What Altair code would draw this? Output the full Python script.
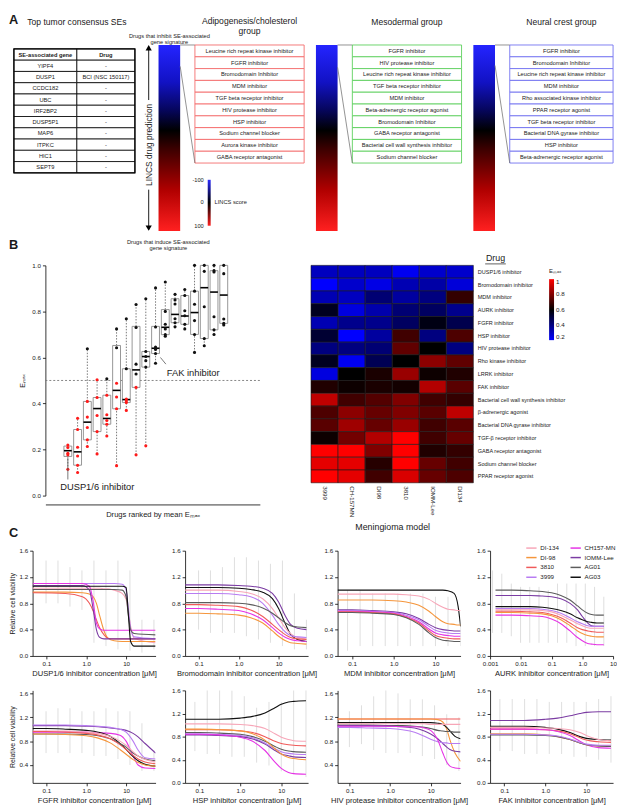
import altair as alt
import pandas as pd

FONT = "Liberation Sans"

# ---------------- Panel A data ----------------
SE_HEADER = ["SE-associated gene", "Drug"]
SE_GENES = ["YIPF4", "DUSP1", "CCDC182", "UBC", "IRF2BP2", "DUSP5P1", "MAP6", "ITPKC", "HIC1", "SEPT9"]
SE_DRUGS = ["-", "BCI (NSC 150117)", "-", "-", "-", "-", "-", "-", "-", "-"]

ADIPO_DRUGS = ["Leucine rich repeat kinase inhibitor", "FGFR inhibitor", "Bromodomain Inhibitor",
               "MDM inhibitor", "TGF beta receptor inhibitor", "HIV protease inhibitor", "HSP inhibitor",
               "Sodium channel blocker", "Aurora kinase inhibitor", "GABA receptor antagonist"]
MESO_DRUGS = ["FGFR inhibitor", "HIV protease inhibitor", "Leucine rich repeat kinase inhibitor",
              "TGF beta receptor inhibitor", "MDM inhibitor", "Beta-adrenergic receptor agonist",
              "Bromodomain Inhibitor", "GABA receptor antagonist", "Bacterial cell wall synthesis inhibitor",
              "Sodium channel blocker"]
NEURAL_DRUGS = ["FGFR inhibitor", "Bromodomain Inhibitor", "Leucine rich repeat kinase inhibitor",
                "MDM inhibitor", "Rho associated kinase inhibitor", "PPAR receptor agonist",
                "TGF beta receptor inhibitor", "Bacterial DNA gyrase inhibitor", "HSP inhibitor",
                "Beta-adrenergic receptor agonist"]
GROUP_DRUGS = [ADIPO_DRUGS, MESO_DRUGS, NEURAL_DRUGS]
GROUP_TITLES = [["Adipogenesis/cholesterol", "group"], ["Mesodermal group"], ["Neural crest group"]]
TOP10_PCT = [11.5, 12.0, 11.0]          # share (%) of ranked LINCS list covered by the top-10 drugs
LINCS_TICKS = ["-100", "0", "100"]

# ---------------- Panel B data ----------------
DRUGS = ["DUSP1/6 inhibitor", "Bromodomain inhibitor", "MDM inhibitor", "AURK inhibitor", "FGFR inhibitor",
         "HSP inhibitor", "HIV protease inhibitor", "Rho kinase inhibitor", "LRRK inhibitor", "FAK inhibitor",
         "Bacterial cell wall synthesis inhibitor", "β-adrenergic agonist", "Bacterial DNA gyrase inhibitor",
         "TGF-β receptor inhibitor", "GABA receptor antagonist", "Sodium channel blocker", "PPAR receptor agonist"]
BOX_Q1 = [0.17, 0.132, 0.242, 0.278, 0.31, 0.377, 0.404, 0.47, 0.558, 0.617, 0.699, 0.751, 0.744, 0.70, 0.682, 0.72, 0.748]
BOX_MED = [0.195, 0.19, 0.319, 0.378, 0.335, 0.457, 0.417, 0.546, 0.604, 0.64, 0.731, 0.787, 0.78, 0.795, 0.903, 0.884, 0.871]
BOX_Q3 = [0.215, 0.287, 0.409, 0.426, 0.436, 0.652, 0.551, 0.735, 0.626, 0.735, 0.808, 0.855, 0.869, 0.888, 1.0, 0.977, 1.0]
BOX_POINTS = [
    [0.22, 0.209, 0.184, 0.177, 0.114],
    [0.336, 0.287, 0.21, 0.172, 0.132, 0.10],
    [0.638, 0.409, 0.341, 0.296, 0.242, 0.213],
    [0.503, 0.426, 0.348, 0.278, 0.181],
    [0.507, 0.436, 0.351, 0.326, 0.31, 0.259],
    [0.724, 0.642, 0.488, 0.428, 0.377, 0.13],
    [0.768, 0.551, 0.419, 0.412, 0.404, 0.37],
    [0.83, 0.73, 0.571, 0.528, 0.47, 0.177],
    [0.855, 0.626, 0.604, 0.586, 0.558, 0.216],
    [0.902, 0.732, 0.645, 0.64, 0.635, 0.617, 0.575],
    [0.928, 0.80, 0.744, 0.724, 0.699, 0.692],
    [0.874, 0.85, 0.832, 0.768, 0.751, 0.733],
    [0.895, 0.869, 0.803, 0.781, 0.744, 0.724],
    [1.0, 0.888, 0.831, 0.76, 0.70, 0.622],
    [1.0, 0.974, 0.82, 0.682, 0.651],
    [1.0, 0.977, 0.971, 0.777, 0.72, 0.70],
    [1.0, 0.964, 0.767, 0.748, 0.741],
]
HEAT_MODELS = ["3999", "CH-157MN", "DI98", "3810", "IOMM-Lee", "DI134"]
HEAT_EMAX = [
    [0.30, 0.30, 0.30, 0.22, 0.28, 0.28],
    [0.20, 0.28, 0.24, 0.32, 0.34, 0.26],
    [0.32, 0.30, 0.42, 0.35, 0.40, 0.68],
    [0.55, 0.25, 0.33, 0.42, 0.45, 0.38],
    [0.32, 0.38, 0.38, 0.45, 0.57, 0.48],
    [0.52, 0.20, 0.35, 0.70, 0.40, 0.72],
    [0.40, 0.40, 0.42, 0.75, 0.60, 0.40],
    [0.55, 0.22, 0.47, 0.60, 0.82, 0.75],
    [0.25, 0.60, 0.64, 0.84, 0.62, 0.65],
    [0.65, 0.62, 0.64, 0.63, 0.88, 0.74],
    [0.90, 0.70, 0.73, 0.80, 0.70, 0.68],
    [0.72, 0.82, 0.76, 0.80, 0.74, 0.90],
    [0.74, 0.85, 0.76, 0.84, 0.70, 0.74],
    [0.62, 0.78, 0.88, 1.00, 0.70, 0.76],
    [1.00, 1.00, 0.80, 1.00, 0.65, 0.68],
    [0.96, 0.96, 0.66, 1.00, 0.76, 0.70],
    [1.00, 0.96, 0.70, 0.94, 0.76, 0.72],
]

# ---------------- Panel C data ----------------
C_MODELS = ["DI-134", "DI-98", "3810", "3999", "CH157-MN", "IOMM-Lee", "AG01", "AG03"]
C_COLORS = ["#f7a6b8", "#f5963c", "#f05a5a", "#b87cf2", "#e533e5", "#7b3ca3", "#5c5c5c", "#111111"]

DUSP_X = [0.045, 0.3, 0.8, 1.2, 1.5, 1.8, 2.2, 2.8, 3.5, 5, 8, 10, 11.5, 13, 16, 55]
DUSP_Y = {
    "DI-134":   [1.03, 1.03, 1.03, 1.03, 1.03, 1.03, 1.03, 1.02, 1.02, 1.00, 0.95, 0.86, 0.66, 0.45, 0.27, 0.20],
    "DI-98":    [0.97, 0.97, 0.96, 0.94, 0.90, 0.80, 0.60, 0.38, 0.27, 0.23, 0.22, 0.22, 0.22, 0.22, 0.22, 0.22],
    "3810":     [0.96, 0.95, 0.90, 0.80, 0.68, 0.55, 0.42, 0.32, 0.27, 0.26, 0.26, 0.26, 0.26, 0.26, 0.26, 0.26],
    "3999":     [1.10, 1.10, 1.10, 1.10, 1.10, 1.10, 1.10, 1.10, 1.10, 1.10, 1.09, 1.00, 0.70, 0.42, 0.29, 0.26],
    "CH157-MN": [1.10, 1.10, 1.10, 1.06, 0.82, 0.50, 0.41, 0.39, 0.39, 0.39, 0.39, 0.39, 0.39, 0.39, 0.39, 0.39],
    "IOMM-Lee": [1.07, 1.07, 1.07, 1.00, 0.70, 0.40, 0.28, 0.26, 0.26, 0.26, 0.26, 0.26, 0.26, 0.26, 0.26, 0.26],
    "AG01":     [1.01, 1.01, 1.01, 1.01, 1.01, 1.01, 1.01, 1.01, 1.01, 1.01, 1.00, 0.90, 0.60, 0.40, 0.34, 0.32],
    "AG03":     [1.06, 1.06, 1.06, 1.06, 1.06, 1.06, 1.06, 1.06, 1.06, 1.06, 1.06, 1.04, 0.60, 0.22, 0.15, 0.15],
}
BROMO_X = [0.045, 0.1, 0.3, 1, 2, 4, 7, 10, 15, 20, 30, 50]
BROMO_Y = {
    "IOMM-Lee": [1.08, 1.08, 1.08, 1.07, 1.06, 1.03, 0.95, 0.82, 0.60, 0.48, 0.42, 0.40],
    "AG03":     [1.04, 1.04, 1.04, 1.03, 1.01, 0.97, 0.87, 0.72, 0.48, 0.33, 0.25, 0.22],
    "DI-134":   [1.00, 1.00, 1.00, 0.98, 0.95, 0.87, 0.72, 0.58, 0.42, 0.34, 0.28, 0.26],
    "3999":     [0.95, 0.95, 0.95, 0.93, 0.90, 0.80, 0.62, 0.48, 0.36, 0.31, 0.29, 0.28],
    "AG01":     [0.81, 0.81, 0.81, 0.80, 0.78, 0.73, 0.65, 0.58, 0.50, 0.46, 0.44, 0.43],
    "3810":     [0.78, 0.78, 0.77, 0.75, 0.70, 0.60, 0.48, 0.40, 0.32, 0.28, 0.26, 0.25],
    "CH157-MN": [0.72, 0.72, 0.71, 0.69, 0.64, 0.55, 0.43, 0.35, 0.28, 0.25, 0.23, 0.22],
    "DI-98":    [0.65, 0.65, 0.64, 0.62, 0.58, 0.50, 0.38, 0.30, 0.23, 0.20, 0.19, 0.18],
}
MDM_X = [0.045, 0.1, 0.3, 1, 2, 4, 7, 10, 15, 20, 28, 35, 40]
MDM_Y = {
    "AG03":     [1.00, 1.00, 1.00, 1.00, 1.00, 1.00, 1.00, 1.00, 1.00, 0.99, 0.95, 0.75, 0.45],
    "DI-134":   [0.94, 0.94, 0.94, 0.94, 0.93, 0.91, 0.86, 0.80, 0.74, 0.71, 0.70, 0.69, 0.69],
    "DI-98":    [0.85, 0.85, 0.85, 0.84, 0.82, 0.77, 0.68, 0.60, 0.52, 0.49, 0.48, 0.47, 0.47],
    "IOMM-Lee": [0.70, 0.70, 0.69, 0.67, 0.64, 0.57, 0.48, 0.43, 0.40, 0.39, 0.38, 0.38, 0.38],
    "3999":     [0.69, 0.69, 0.68, 0.66, 0.62, 0.55, 0.45, 0.39, 0.36, 0.35, 0.34, 0.34, 0.34],
    "CH157-MN": [0.68, 0.68, 0.67, 0.65, 0.60, 0.52, 0.41, 0.35, 0.32, 0.31, 0.30, 0.30, 0.30],
    "3810":     [0.67, 0.67, 0.66, 0.64, 0.59, 0.50, 0.38, 0.31, 0.28, 0.27, 0.26, 0.26, 0.26],
    "AG01":     [0.66, 0.66, 0.65, 0.63, 0.58, 0.48, 0.35, 0.28, 0.24, 0.23, 0.22, 0.22, 0.22],
}
AURK_X = [0.0015, 0.005, 0.02, 0.05, 0.1, 0.2, 0.4, 0.7, 1, 1.5, 2, 3, 5]
AURK_Y = {
    "AG01":     [1.00, 1.00, 0.99, 0.98, 0.96, 0.92, 0.85, 0.76, 0.70, 0.65, 0.63, 0.62, 0.62],
    "IOMM-Lee": [0.92, 0.92, 0.92, 0.91, 0.90, 0.87, 0.80, 0.70, 0.60, 0.50, 0.46, 0.45, 0.45],
    "AG03":     [0.75, 0.75, 0.75, 0.74, 0.72, 0.69, 0.64, 0.58, 0.55, 0.52, 0.51, 0.50, 0.50],
    "3999":     [0.72, 0.72, 0.72, 0.71, 0.69, 0.65, 0.58, 0.52, 0.49, 0.46, 0.45, 0.45, 0.45],
    "DI-134":   [0.70, 0.70, 0.70, 0.69, 0.67, 0.62, 0.55, 0.49, 0.46, 0.43, 0.42, 0.42, 0.42],
    "3810":     [0.68, 0.68, 0.67, 0.66, 0.63, 0.58, 0.50, 0.43, 0.40, 0.38, 0.37, 0.36, 0.36],
    "DI-98":    [0.66, 0.66, 0.65, 0.64, 0.61, 0.55, 0.46, 0.38, 0.34, 0.31, 0.30, 0.29, 0.29],
    "CH157-MN": [0.62, 0.62, 0.61, 0.60, 0.56, 0.49, 0.38, 0.28, 0.23, 0.19, 0.18, 0.17, 0.17],
}
FGFR_X = [0.045, 0.1, 0.3, 1, 2, 4, 7, 10, 15, 20, 30, 55]
FGFR_Y = {
    "IOMM-Lee": [1.06, 1.06, 1.06, 1.05, 1.04, 1.02, 1.00, 0.98, 0.93, 0.87, 0.76, 0.60],
    "3999":     [1.07, 1.07, 1.07, 1.06, 1.05, 1.03, 1.00, 0.95, 0.80, 0.65, 0.52, 0.50],
    "CH157-MN": [0.95, 0.95, 0.95, 0.95, 0.94, 0.93, 0.90, 0.80, 0.55, 0.40, 0.35, 0.34],
    "AG03":     [1.01, 1.01, 1.00, 0.98, 0.95, 0.88, 0.76, 0.66, 0.54, 0.47, 0.41, 0.38],
    "AG01":     [0.92, 0.92, 0.92, 0.91, 0.89, 0.84, 0.76, 0.70, 0.60, 0.55, 0.50, 0.47],
    "DI-134":   [0.97, 0.97, 0.97, 0.95, 0.93, 0.88, 0.80, 0.73, 0.62, 0.55, 0.49, 0.45],
    "3810":     [0.96, 0.96, 0.95, 0.93, 0.90, 0.84, 0.74, 0.66, 0.56, 0.50, 0.45, 0.42],
    "DI-98":    [0.92, 0.92, 0.91, 0.89, 0.85, 0.77, 0.66, 0.58, 0.49, 0.44, 0.40, 0.38],
}
HSP_X = [0.045, 0.1, 0.3, 1, 2, 4, 7, 10, 15, 20, 40]
HSP_Y = {
    "AG03":     [1.10, 1.10, 1.10, 1.12, 1.15, 1.21, 1.30, 1.36, 1.40, 1.41, 1.42],
    "DI-134":   [1.02, 1.02, 1.02, 1.01, 0.99, 0.94, 0.85, 0.79, 0.75, 0.73, 0.72],
    "3810":     [0.92, 0.92, 0.92, 0.90, 0.87, 0.80, 0.72, 0.68, 0.66, 0.65, 0.64],
    "AG01":     [0.87, 0.87, 0.86, 0.84, 0.80, 0.72, 0.63, 0.58, 0.55, 0.54, 0.53],
    "3999":     [0.85, 0.85, 0.84, 0.82, 0.78, 0.69, 0.59, 0.54, 0.51, 0.50, 0.49],
    "IOMM-Lee": [0.83, 0.83, 0.82, 0.80, 0.76, 0.67, 0.56, 0.50, 0.47, 0.45, 0.44],
    "DI-98":    [0.93, 0.93, 0.92, 0.90, 0.85, 0.74, 0.59, 0.50, 0.44, 0.42, 0.40],
    "CH157-MN": [0.84, 0.84, 0.83, 0.79, 0.72, 0.56, 0.36, 0.25, 0.18, 0.16, 0.15],
}
HIV_X = [0.045, 0.1, 0.3, 1, 2, 4, 7, 10, 15, 20, 25, 30, 40, 55]
HIV_Y = {
    "3810":     [1.17, 1.17, 1.17, 1.17, 1.17, 1.17, 1.17, 1.17, 1.17, 1.17, 1.17, 1.17, 1.17, 1.17],
    "DI-98":    [1.17, 1.17, 1.17, 1.17, 1.17, 1.17, 1.17, 1.17, 1.16, 1.12, 1.00, 0.82, 0.60, 0.46],
    "AG03":     [1.11, 1.11, 1.11, 1.11, 1.11, 1.11, 1.11, 1.11, 1.10, 1.08, 1.03, 0.97, 0.88, 0.84],
    "AG01":     [1.07, 1.07, 1.07, 1.06, 1.06, 1.05, 1.03, 1.01, 0.98, 0.97, 0.96, 0.96, 0.95, 0.95],
    "IOMM-Lee": [1.06, 1.06, 1.06, 1.05, 1.04, 1.02, 0.97, 0.92, 0.84, 0.76, 0.70, 0.66, 0.63, 0.62],
    "3999":     [1.03, 1.03, 1.02, 1.01, 0.99, 0.95, 0.88, 0.83, 0.79, 0.77, 0.77, 0.76, 0.76, 0.76],
    "CH157-MN": [1.05, 1.05, 1.05, 1.05, 1.04, 1.04, 1.02, 0.98, 0.82, 0.60, 0.45, 0.38, 0.35, 0.34],
    "DI-134":   [1.09, 1.09, 1.09, 1.09, 1.09, 1.09, 1.09, 1.08, 1.08, 1.08, 1.08, 1.08, 1.08, 1.08],
}
FAK_X = [0.045, 0.1, 0.3, 1, 2, 4, 7, 10, 20, 40]
FAK_Y = {
    "IOMM-Lee": [1.08, 1.08, 1.08, 1.10, 1.12, 1.16, 1.20, 1.22, 1.23, 1.23],
    "AG03":     [0.98, 0.98, 0.98, 0.96, 0.93, 0.87, 0.80, 0.77, 0.75, 0.74],
    "DI-134":   [0.96, 0.96, 0.96, 0.95, 0.94, 0.92, 0.87, 0.82, 0.75, 0.73],
    "3810":     [0.93, 0.93, 0.93, 0.92, 0.90, 0.85, 0.78, 0.74, 0.71, 0.70],
    "CH157-MN": [0.93, 0.93, 0.93, 0.92, 0.89, 0.82, 0.72, 0.66, 0.61, 0.60],
    "DI-98":    [0.85, 0.85, 0.85, 0.83, 0.80, 0.75, 0.69, 0.66, 0.64, 0.64],
    "AG01":     [0.83, 0.83, 0.83, 0.82, 0.80, 0.75, 0.69, 0.66, 0.64, 0.63],
    "3999":     [0.84, 0.84, 0.84, 0.83, 0.81, 0.76, 0.70, 0.67, 0.65, 0.65],
}
CONC_50 = [0.098, 0.195, 0.39, 0.78, 1.56, 3.125, 6.25, 12.5, 25, 50]
CONC_40 = [0.078, 0.156, 0.3125, 0.625, 1.25, 2.5, 5, 10, 20, 40]
CONC_AURK = [0.0012, 0.0024, 0.0049, 0.0098, 0.0195, 0.039, 0.078, 0.156, 0.3125, 0.625, 1.25, 2.5, 5]
DUSP_LO = [0.80, 0.80, 0.75, 0.70, 0.20, 0.15, 0.10, 0.08, 0.05, 0.10]
DUSP_HI = [1.45, 1.45, 1.35, 1.30, 1.45, 1.30, 1.45, 1.30, 0.55, 0.55]
BROMO_LO = [0.40, 0.35, 0.35, 0.35, 0.30, 0.25, 0.20, 0.15, 0.10, 0.10]
BROMO_HI = [1.30, 1.30, 1.35, 1.50, 1.50, 1.45, 1.40, 1.45, 0.95, 0.55]
MDM_LO = [0.08, 0.15, 0.15, 0.15, 0.15, 0.15, 0.15, 0.15, 0.15, 0.15]
MDM_HI = [1.00, 1.00, 0.95, 0.95, 0.95, 0.95, 0.95, 0.90, 0.90, 0.55]
AURK_LO = [0.35, 0.35, 0.30, 0.20, 0.20, 0.20, 0.20, 0.20, 0.20, 0.15, 0.15, 0.15, 0.15]
AURK_HI = [1.30, 1.25, 1.10, 1.05, 1.05, 1.05, 1.00, 1.10, 1.10, 1.10, 1.10, 1.05, 0.90]
FGFR_LO = [0.60, 0.60, 0.60, 0.60, 0.55, 0.55, 0.50, 0.40, 0.30, 0.30]
FGFR_HI = [1.30, 1.35, 1.35, 1.30, 1.30, 1.35, 1.30, 1.30, 1.10, 0.65]
HSP_LO = [0.55, 0.50, 0.50, 0.45, 0.45, 0.35, 0.30, 0.20, 0.15, 0.10]
HSP_HI = [1.40, 1.70, 1.72, 1.60, 1.50, 1.30, 1.40, 1.40, 1.70, 1.80]
HIV_LO = [0.70, 0.75, 0.65, 0.60, 0.60, 0.60, 0.55, 0.50, 0.40, 0.30]
HIV_HI = [1.30, 1.40, 1.55, 1.70, 1.60, 1.50, 1.50, 1.40, 1.25, 1.20]
FAK_LO = [0.55, 0.55, 0.50, 0.50, 0.50, 0.50, 0.45, 0.45, 0.40, 0.35]
FAK_HI = [1.45, 1.45, 1.45, 1.45, 1.40, 1.40, 1.40, 1.40, 1.45, 1.50]

# ---------------- styles ----------------
LINCS_GRAD = {"gradient": "linear", "x1": 0, "y1": 0, "x2": 0, "y2": 1,
              "stops": [{"offset": 0, "color": "#2424ff"}, {"offset": 0.2, "color": "#1212c4"},
                        {"offset": 0.35, "color": "#06065c"}, {"offset": 0.46, "color": "#000000"},
                        {"offset": 0.56, "color": "#3c0000"}, {"offset": 0.78, "color": "#b00000"},
                        {"offset": 1, "color": "#ff2020"}]}
LEG_GRAD = {"gradient": "linear", "x1": 0, "y1": 0, "x2": 0, "y2": 1,
            "stops": [{"offset": 0, "color": "#2a2aff"}, {"offset": 0.5, "color": "#000000"},
                      {"offset": 1, "color": "#ff2020"}]}
GROUP_EDGE = ["#f46a6a", "#5ccf5c", "#7070f0"]
TXT = "#1a1a1a"
ONE = pd.DataFrame({"k": [0]})


def note(text, x, y, size=8.0, **kw):
    kw.setdefault("color", TXT)
    return alt.Chart(ONE).mark_text(text=text, fontSize=size, font=FONT, **kw).encode(
        x=alt.value(x), y=alt.value(y))


def spacer(w, h=10):
    return alt.Chart(ONE).mark_point(opacity=0, size=1).encode(
        x=alt.value(0), y=alt.value(0)).properties(width=w, height=h)


# ================= Panel A =================
A_H = 189
TBL_W = 135
TBL_COLS = [0, 64, 123]
TBL_ROW = 11.45
TBL_TOP = 4

cells = []
for r, row in enumerate([SE_HEADER] + [[g, d] for g, d in zip(SE_GENES, SE_DRUGS)]):
    for c, t in enumerate(row):
        cells.append(dict(x0=TBL_COLS[c], x1=TBL_COLS[c + 1], y0=TBL_TOP + r * TBL_ROW,
                          y1=TBL_TOP + (r + 1) * TBL_ROW, t=t, head=int(r == 0)))
cells = pd.DataFrame(cells)
cells["xm"] = (cells.x0 + cells.x1) / 2
cells["ym"] = (cells.y0 + cells.y1) / 2
tx = alt.Scale(domain=[0, TBL_W])
ty = alt.Scale(domain=[0, A_H], reverse=True)
tbl_rect = alt.Chart(cells).mark_rect(fill="white", stroke="black", strokeWidth=0.8).encode(
    x=alt.X("x0:Q", scale=tx, axis=None), x2="x1", y=alt.Y("y0:Q", scale=ty, axis=None), y2="y1")
tbl_frame = alt.Chart(pd.DataFrame({"x0": [TBL_COLS[0]], "x1": [TBL_COLS[-1]], "y0": [TBL_TOP],
                                    "y1": [TBL_TOP + 11 * TBL_ROW]})).mark_rect(
    fill=None, stroke="black", strokeWidth=1.3).encode(
    x=alt.X("x0:Q", scale=tx, axis=None), x2="x1", y=alt.Y("y0:Q", scale=ty, axis=None), y2="y1")
tbl_body = alt.Chart(cells).transform_filter("datum.head == 0").mark_text(fontSize=5.8, color=TXT).encode(
    x=alt.X("xm:Q", scale=tx, axis=None), y=alt.Y("ym:Q", scale=ty, axis=None), text="t:N")
tbl_head = alt.Chart(cells).transform_filter("datum.head == 1").mark_text(
    fontSize=5.8, fontWeight="bold", color=TXT).encode(
    x=alt.X("xm:Q", scale=tx, axis=None), y=alt.Y("ym:Q", scale=ty, axis=None), text="t:N")
table = alt.layer(
    tbl_rect, tbl_frame, tbl_body, tbl_head,
    note("Top tumor consensus SEs", 64, -23, 8.7),
    note("A", -5, -25, 13, fontWeight="bold", align="left"),
    note("B", -5, A_H + 14, 13, fontWeight="bold", align="left"),
).properties(width=TBL_W, height=A_H)

BAR_W, GAP = 22, 15
ROW_PCT = 12 / A_H * 100


def lincs_group(k, list_w, extras):
    drugs = GROUP_DRUGS[k]
    W = BAR_W + GAP + list_w
    gx = alt.Scale(domain=[0, W])
    gy = alt.Scale(domain=[0, 100], reverse=True)

    def X(f):
        return alt.X(f, scale=gx, axis=None)

    def Y(f):
        return alt.Y(f, scale=gy, axis=None)

    bar = alt.Chart(pd.DataFrame({"x0": [0], "x1": [BAR_W], "y0": [0], "y1": [100]})).mark_rect(
        color=LINCS_GRAD).encode(x=X("x0:Q"), x2="x1", y=Y("y0:Q"), y2="y1")
    rows = pd.DataFrame({"drug": drugs, "rank": list(range(len(drugs)))})
    rows["y0"] = rows["rank"] * ROW_PCT
    rows["y1"] = (rows["rank"] + 1) * ROW_PCT
    rows["ym"] = (rows.y0 + rows.y1) / 2
    rows["x0"] = BAR_W + GAP
    rows["x1"] = W
    rows["xm"] = (rows.x0 + rows.x1) / 2
    boxes = alt.Chart(rows).mark_rect(fill="white", stroke=GROUP_EDGE[k], strokeWidth=0.9).encode(
        x=X("x0:Q"), x2="x1", y=Y("y0:Q"), y2="y1")
    labels = alt.Chart(rows).mark_text(fontSize=5.8, color="#222").encode(
        x=X("xm:Q"), y=Y("ym:Q"), text="drug:N")
    conn = pd.DataFrame({"x0": [BAR_W, BAR_W], "x1": [BAR_W + GAP] * 2,
                         "y0": [0, TOP10_PCT[k]], "y1": [0, len(drugs) * ROW_PCT]})
    links = alt.Chart(conn).mark_rule(color="#777", strokeWidth=0.8).encode(
        x=X("x0:Q"), x2="x1", y=Y("y0:Q"), y2="y1")
    layers = [bar, boxes, labels, links]
    cx = BAR_W + GAP + list_w / 2
    titles = GROUP_TITLES[k]
    if len(titles) == 2:
        layers += [note(titles[0], cx, -24, 8.7), note(titles[1], cx, -14, 8.7)]
    else:
        layers += [note(titles[0], cx, -23, 8.7)]
    if extras:
        seg = pd.DataFrame({"y0": [0.8, 77.8], "y1": [29.6, 99.2]})
        layers.append(alt.Chart(seg).mark_rule(color="black", strokeWidth=0.9).encode(
            x=alt.value(-10), y=Y("y0:Q"), y2="y1"))
        heads = pd.DataFrame({"y": [1.5, 98.5], "s": ["triangle-up", "triangle-down"]})
        layers.append(alt.Chart(heads).mark_point(filled=True, size=40, color="black", opacity=1).encode(
            x=alt.value(-10), y=Y("y:Q"), shape=alt.Shape("s:N", scale=None)))
        layers.append(note("LINCS drug prediction", -10, 101.5, 8.5, angle=270))
        layers.append(note("Drugs that inhibit SE-associated", 11, -9, 5.8))
        layers.append(note("gene signature", 11, -3, 5.8))
        layers.append(note("Drugs that induce SE-associated", 10, A_H + 11, 5.8))
        layers.append(note("gene signature", 10, A_H + 17.5, 5.8))
        leg = pd.DataFrame({"x0": [50], "x1": [53], "y0": [72.5], "y1": [97.2]})
        layers.append(alt.Chart(leg).mark_rect(color=LEG_GRAD).encode(
            x=X("x0:Q"), x2="x1", y=Y("y0:Q"), y2="y1"))
        for t, py in zip(LINCS_TICKS, [137, 160, 183.7]):
            layers.append(note(t, 46, py, 5.8, align="right"))
        layers.append(note("LINCS score", 57, 160, 5.8, align="left"))
    return alt.layer(*layers).properties(width=W, height=A_H)


rowA = alt.hconcat(table, lincs_group(0, 111, True), lincs_group(1, 111, False),
                   lincs_group(2, 105, False), spacing=12, bounds="flush")

# ================= Panel B =================
BW, BH = 218, 234
bx = alt.Scale(domain=[-0.8, 20.2], nice=False)
by = alt.Scale(domain=[0, 1], nice=False)
X_AX = alt.Axis(title="Drugs ranked by mean Eₘₐₓ", labels=False, ticks=False, offset=9,
                titleFontSize=7.7, titlePadding=6)
Y_AX = alt.Axis(title="Eₘₐₓ", values=[0, 0.2, 0.4, 0.6, 0.8, 1.0], format=".1f", titleFontSize=7,
                labelFontSize=6.3, titlePadding=6)
stats = pd.DataFrame({"rank": list(range(1, len(DRUGS) + 1)), "q1": BOX_Q1, "med": BOX_MED, "q3": BOX_Q3})
stats["lo"] = [min(p) for p in BOX_POINTS]
stats["hi"] = [max(p) for p in BOX_POINTS]
pts = pd.DataFrame([{"rank": i + 1, "v": v} for i, p in enumerate(BOX_POINTS) for v in p])


def BX(f):
    return alt.X(f, scale=bx, axis=X_AX)


def BY(f):
    return alt.Y(f, scale=by, axis=Y_AX)


thr = alt.Chart(pd.DataFrame({"y": [0.5]})).mark_rule(color="#777", strokeDash=[2, 2], strokeWidth=0.9).encode(
    y=BY("y:Q"))
wh_hi = alt.Chart(stats).mark_rule(color="#555", strokeDash=[1.5, 1.5], strokeWidth=0.8).encode(
    x=BX("rank:Q"), y=BY("q3:Q"), y2="hi")
wh_lo = alt.Chart(stats).mark_rule(color="#555", strokeDash=[1.5, 1.5], strokeWidth=0.8).encode(
    x=BX("rank:Q"), y=BY("lo:Q"), y2="q1")
boxes = alt.Chart(stats).mark_bar(size=8, fill="white", stroke="#8a8a8a", strokeWidth=0.9).encode(
    x=BX("rank:Q"), y=BY("q1:Q"), y2="q3")
meds = alt.Chart(stats).transform_calculate(l="datum.rank - 0.4", r="datum.rank + 0.4").mark_rule(
    color="black", strokeWidth=1.6).encode(x=BX("l:Q"), x2="r:Q", y=BY("med:Q"))
dots = alt.Chart(pts).mark_circle(size=10, opacity=1).encode(
    x=BX("rank:Q"), y=BY("v:Q"),
    color=alt.condition("datum.v < 0.505", alt.value("#ff1a1a"), alt.value("#111111")))
lead = pd.DataFrame({"x": [1, 10.5], "x2": [1, 11.06], "y": [0.165, 0.60], "y2": [0.07, 0.571]})
leaders = alt.Chart(lead).mark_rule(color="#555", strokeWidth=0.8).encode(
    x=BX("x:Q"), x2="x2", y=BY("y:Q"), y2="y2")
ann = pd.DataFrame({"t": ["DUSP1/6 inhibitor", "FAK inhibitor"], "x": [4.02, 11.15], "y": [0.037, 0.534],
                    "a": ["center", "left"]})
ann_c = alt.Chart(ann).transform_filter("datum.a == 'center'").mark_text(fontSize=9.5, color=TXT).encode(
    x=BX("x:Q"), y=BY("y:Q"), text="t:N")
ann_l = alt.Chart(ann).transform_filter("datum.a == 'left'").mark_text(fontSize=9.5, color=TXT, align="left").encode(
    x=BX("x:Q"), y=BY("y:Q"), text="t:N")
boxplot = alt.layer(thr, wh_hi, wh_lo, boxes, meds, dots, leaders, ann_c, ann_l,
                    note("C", -37, 272, 13, fontWeight="bold", align="left")).properties(width=BW, height=BH)

heat_df = pd.DataFrame([{"drug": d, "model": m, "emax": HEAT_EMAX[i][j]}
                        for i, d in enumerate(DRUGS) for j, m in enumerate(HEAT_MODELS)])
heat_rect = alt.Chart(heat_df).mark_rect(stroke="#1a1a1a", strokeWidth=0.6).encode(
    x=alt.X("model:N", sort=HEAT_MODELS,
            axis=alt.Axis(title="Meningioma model", labelAngle=90, labelFontSize=6.3, ticks=False, domain=False,
                          titleFontSize=9, labelPadding=3, titlePadding=6)),
    y=alt.Y("drug:N", sort=DRUGS,
            axis=alt.Axis(orient="right", title="Drug", titleAngle=0, titleX=22, titleY=-3, titleAlign="center",
                          titleBaseline="bottom", titleFontSize=9, labelFontSize=5.6, ticks=False, domain=False,
                          labelPadding=4, labelLimit=200)),
    color=alt.Color("emax:Q",
                    scale=alt.Scale(domain=[0.2, 0.6, 1.0], range=["#0000ff", "#000000", "#ff0000"],
                                    interpolate="rgb", clamp=True),
                    legend=alt.Legend(orient="none", legendX=242, legendY=3, direction="vertical", title="Eₘₐₓ",
                                      titleFontSize=6, titleFontWeight="normal", labelFontSize=6.3,
                                      gradientLength=62, gradientThickness=5, values=[0.2, 0.4, 0.6, 0.8, 1.0],
                                      format="~g")))
underline = alt.Chart(ONE).mark_rule(color=TXT, strokeWidth=0.7).encode(
    x=alt.value(177), x2=alt.value(198), y=alt.value(-1.5), y2=alt.value(-1.5))
heat = alt.layer(heat_rect, underline).properties(width=165, height=221)

rowB = alt.hconcat(spacer(32), boxplot, spacer(52), heat, spacing=0, bounds="flush").resolve_scale(
    color="independent")

# ================= Panel C =================
PANELS = [
    ("DUSP1/6 inhibitor concentration [μM]", DUSP_X, DUSP_Y, CONC_50, DUSP_LO, DUSP_HI, [0.045, 55], [0, 1.6]),
    ("Bromodomain inhibitor concentration [μM]", BROMO_X, BROMO_Y, CONC_50, BROMO_LO, BROMO_HI, [0.045, 55], [0, 1.6]),
    ("MDM inhibitor concentration [μM]", MDM_X, MDM_Y, CONC_40, MDM_LO, MDM_HI, [0.045, 40], [0, 1.6]),
    ("AURK inhibitor concentration [μM]", AURK_X, AURK_Y, CONC_AURK, AURK_LO, AURK_HI, [0.001, 10], [0, 1.6]),
    ("FGFR inhibitor concentration [μM]", FGFR_X, FGFR_Y, CONC_50, FGFR_LO, FGFR_HI, [0.045, 55], [0.1, 1.65]),
    ("HSP inhibitor concentration [μM]", HSP_X, HSP_Y, CONC_40, HSP_LO, HSP_HI, [0.045, 45], [0, 1.6]),
    ("HIV protease inhibitor concentration [μM]", HIV_X, HIV_Y, CONC_50, HIV_LO, HIV_HI, [0.05, 55], [0.1, 1.65]),
    ("FAK inhibitor concentration [μM]", FAK_X, FAK_Y, CONC_40, FAK_LO, FAK_HI, [0.045, 45], [0, 1.6]),
]
PW = 125


def dose_panel(idx, h):
    title, grid, curves, econc, elo, ehi, xdom, ydom = PANELS[idx]
    lines = pd.DataFrame([{"c": c, "v": v, "model": m} for m, ys in curves.items() for c, v in zip(grid, ys)])
    errs = pd.DataFrame({"c": econc, "v": elo, "v2": ehi})
    xs = alt.Scale(type="log", domain=xdom, nice=False)
    ys = alt.Scale(domain=ydom, nice=False, zero=False)
    xvals = [0.001, 0.01, 0.1, 1, 10] if xdom[0] < 0.01 else [0.1, 1, 10]
    yvals = [0, 0.4, 0.8, 1.2, 1.6] if ydom[0] == 0 else [0.4, 0.8, 1.2, 1.6]
    xa = alt.Axis(title=title, values=xvals, labelExpr="datum.value == 1 ? '1.0' : format(datum.value, '~g')",
                  labelFontSize=6.3, titleFontSize=7.7, titlePadding=3, labelFlush=False)
    ya_kw = dict(values=yvals, format=".1f", labelFontSize=6.3, titleFontSize=7, titlePadding=4)
    if idx % 4 == 0:
        ya = alt.Axis(title="Relative cell viability", **ya_kw)
    else:
        ya = alt.Axis(title=None, **ya_kw)
    err = alt.Chart(errs).mark_rule(color="#9a9a9a", opacity=0.4, strokeWidth=0.8, clip=True).encode(
        x=alt.X("c:Q", scale=xs, axis=xa), y=alt.Y("v:Q", scale=ys, axis=ya), y2="v2")
    if idx == 3:
        leg = alt.Legend(orient="none", legendX=36, legendY=-9, columns=2, title=None, symbolType="stroke",
                         symbolStrokeWidth=1.5, symbolSize=110, labelFontSize=6.3, rowPadding=0,
                         columnPadding=8, labelOffset=3, padding=0)
        col = alt.Color("model:N", scale=alt.Scale(domain=C_MODELS, range=C_COLORS), legend=leg)
    else:
        col = alt.Color("model:N", scale=alt.Scale(domain=C_MODELS, range=C_COLORS), legend=None)
    ln = alt.Chart(lines).mark_line(strokeWidth=1.1, interpolate="monotone", clip=True).encode(
        x=alt.X("c:Q", scale=xs, axis=xa), y=alt.Y("v:Q", scale=ys, axis=ya), color=col)
    return alt.layer(err, ln).properties(width=PW, height=h)


def dose_row(idxs, h):
    items = [spacer(19)]
    for n, i in enumerate(idxs):
        if n:
            items.append(spacer(30))
        items.append(dose_panel(i, h))
    return alt.hconcat(*items, spacing=0, bounds="flush").resolve_scale(color="independent")


rowC1 = dose_row(range(4), 107)
rowC2 = dose_row(range(4, 8), 94)

chart = alt.vconcat(rowA, rowB, rowC1, spacer(10, 5), rowC2, spacing=2).resolve_scale(
    color="independent").properties(padding=0)
chart = chart.configure(font=FONT).configure_view(stroke=None).configure_axis(
    grid=False, domainColor="black", tickColor="black", labelColor=TXT, titleColor=TXT, tickSize=3,
    domainWidth=0.8, tickWidth=0.8, titleFontWeight="normal", labelFont=FONT, titleFont=FONT
).configure_legend(labelFont=FONT, titleFont=FONT, labelColor=TXT, titleColor=TXT)

chart.save("out.html", embed_options={"renderer": "svg", "actions": False})
